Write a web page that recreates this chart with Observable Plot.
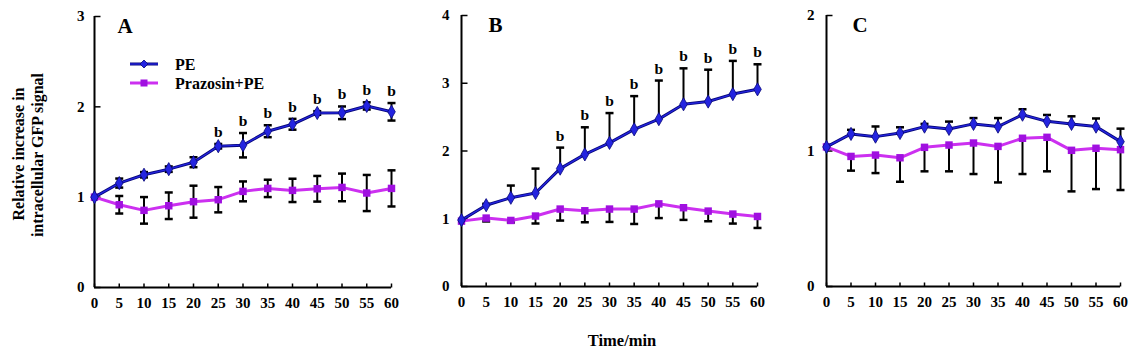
<!DOCTYPE html>
<html>
<head>
<meta charset="utf-8">
<script src="https://cdn.jsdelivr.net/npm/d3@7"></script>
<script src="https://cdn.jsdelivr.net/npm/@observablehq/plot@0.6"></script>
<style>
  body { margin: 0; background: #fff; }
  #wrap { position: relative; width: 1145px; height: 353px; font-family: "Liberation Serif", "DejaVu Serif", serif; font-weight: bold; color: #000; }
  #wrap > div.p { position: absolute; top: 0; }
  .ylab { position: absolute; white-space: nowrap; font-size: 16px; transform: translate(-50%, -50%) rotate(-90deg); }
  #xlab { position: absolute; left: 622px; top: 341px; transform: translate(-50%, -50%); font-size: 16.5px; white-space: nowrap; }
</style>
</head>
<body>
<div id="wrap"></div>
<script>
// ---- data ----
const times = [0, 5, 10, 15, 20, 25, 30, 35, 40, 45, 50, 55, 60];
const seriesNames = ["PE", "Prazosin+PE"];

// Panel A (mean, SD; both-sided error bars)
const peA   = [1.00, 1.156, 1.248, 1.31, 1.387, 1.564, 1.575, 1.73, 1.807, 1.932, 1.934, 2.01, 1.945];
const peAsd = [0, 0.05, 0.03, 0.03, 0.055, 0.025, 0.135, 0.066, 0.06, 0.02, 0.07, 0.04, 0.097];
const pzA   = [1.00, 0.916, 0.854, 0.905, 0.95, 0.972, 1.064, 1.097, 1.075, 1.093, 1.108, 1.046, 1.097];
const pzAsd = [0, 0.097, 0.147, 0.147, 0.177, 0.14, 0.11, 0.096, 0.129, 0.142, 0.153, 0.2, 0.2];
const sigA  = [25, 30, 35, 40, 45, 50, 55, 60];

// Panel B (PE bars upward, Prazosin bars downward)
const peB   = [0.98, 1.20, 1.31, 1.38, 1.74, 1.95, 2.12, 2.32, 2.47, 2.69, 2.73, 2.84, 2.91];
const peBsd = [0, 0.02, 0.18, 0.36, 0.31, 0.40, 0.44, 0.49, 0.57, 0.53, 0.47, 0.49, 0.37];
const pzB   = [0.965, 1.01, 0.975, 1.04, 1.143, 1.118, 1.143, 1.143, 1.22, 1.163, 1.113, 1.069, 1.034];
const pzBsd = [0, 0.05, 0.03, 0.11, 0.17, 0.17, 0.19, 0.22, 0.21, 0.18, 0.15, 0.14, 0.17];
const sigB  = [20, 25, 30, 35, 40, 45, 50, 55, 60];

// Panel C (PE bars upward, Prazosin bars downward)
const peC   = [1.03, 1.126, 1.106, 1.133, 1.18, 1.163, 1.2, 1.18, 1.268, 1.219, 1.2, 1.18, 1.069];
const peCsd = [0, 0.03, 0.075, 0.042, 0.02, 0.054, 0.043, 0.063, 0.04, 0.047, 0.056, 0.06, 0.096];
const pzC   = [1.03, 0.96, 0.97, 0.95, 1.027, 1.044, 1.059, 1.034, 1.094, 1.101, 1.005, 1.02, 1.01];
const pzCsd = [0, 0.105, 0.133, 0.177, 0.177, 0.194, 0.229, 0.266, 0.264, 0.251, 0.303, 0.301, 0.298];
const sigC  = [];

const yTicksA = [0, 1, 2, 3];
const yTicksB = [0, 1, 2, 3, 4];
const yTicksC = [0, 1, 2];

// ---- styles ----
const PE_DARK = "#07077a", PE_BLUE = "#2424e0", PZ_LINE = "#cc30f0", PZ_MARK = "#a010e0";
const cap   = { draw(ctx) { ctx.moveTo(-4, 0); ctx.lineTo(4, 0); } };
const tickUp    = { draw(ctx) { ctx.moveTo(0, 0); ctx.lineTo(0, -4); } };
const tickRight = { draw(ctx) { ctx.moveTo(0, 0); ctx.lineTo(6, 0); } };

function makeRows(pe, peSd, pz, pzSd, sides) {
  const rows = [];
  times.forEach((t, i) => {
    rows.push({ t, s: seriesNames[0], m: pe[i], sd: peSd[i],
      lo: sides === "both" ? pe[i] - peSd[i] : pe[i],
      hi: pe[i] + peSd[i] });
    rows.push({ t, s: seriesNames[1], m: pz[i], sd: pzSd[i],
      lo: pz[i] - pzSd[i],
      hi: sides === "both" ? pz[i] + pzSd[i] : pz[i] });
  });
  return rows;
}

function panel(cfg) {
  const rows = makeRows(cfg.pe, cfg.peSd, cfg.pz, cfg.pzSd, cfg.sides);
  const peRows = rows.filter(d => d.s === "PE");
  const pzRows = rows.filter(d => d.s !== "PE");
  const sigRows = peRows.filter(d => cfg.sig.includes(d.t));
  const errRows = rows.filter(d => d.sd > 0);
  const capRows = [];
  errRows.forEach(d => {
    if (d.hi > d.m) capRows.push({ t: d.t, v: d.hi });
    if (d.lo < d.m) capRows.push({ t: d.t, v: d.lo });
  });
  return Plot.plot({
    width: cfg.width, height: 353,
    marginLeft: cfg.ml, marginRight: cfg.mr, marginTop: cfg.mt, marginBottom: 353 - cfg.y0,
    style: { fontFamily: "'Liberation Serif', serif", fontWeight: "bold", fontSize: "15px", background: "transparent", overflow: "visible" },
    x: { domain: [0, 60] },
    y: { domain: [0, cfg.yTicks[cfg.yTicks.length - 1]] },
    marks: [
      // tick labels
      Plot.axisX({ ticks: times, tickSize: 0, tickPadding: 10, tickFormat: d => String(d), fontSize: 15, label: null }),
      Plot.axisY({ ticks: cfg.yTicks, tickSize: 0, tickPadding: cfg.ypad, tickFormat: d => String(d), fontSize: 15, label: null }),
      // axis lines
      Plot.ruleY([0], { stroke: "#000", strokeWidth: 2 }),
      Plot.ruleX([0], { stroke: "#000", strokeWidth: 2 }),
      // inward tick marks
      Plot.dot(times, { x: d => d, y: () => 0, symbol: tickUp, stroke: "#000", strokeWidth: 1.5, r: 4 }),
      Plot.dot(cfg.yTicks, { x: () => 0, y: d => d, symbol: tickRight, stroke: "#000", strokeWidth: 1.5, r: 4 }),
      // error bars
      Plot.ruleX(errRows, { x: "t", y1: "lo", y2: "hi", stroke: "#000", strokeWidth: 2 }),
      Plot.dot(capRows, { x: "t", y: "v", symbol: cap, stroke: "#000", strokeWidth: 2.5, r: 4 }),
      // series
      Plot.line(pzRows, { x: "t", y: "m", stroke: PZ_LINE, strokeWidth: 3 }),
      Plot.dot(pzRows, { x: "t", y: "m", symbol: "square", fill: PZ_MARK, r: 4.2 }),
      Plot.line(peRows, { x: "t", y: "m", stroke: PE_DARK, strokeWidth: 3 }),
      Plot.line(peRows, { x: "t", y: "m", stroke: PE_BLUE, strokeWidth: 1.3 }),
      Plot.dot(peRows, { x: "t", y: "m", symbol: "diamond", fill: PE_BLUE, stroke: PE_DARK, strokeWidth: 0.8, r: 4 }),
      Plot.text(sigRows, { x: "t", y: "hi", text: () => "b", dy: -12, fontSize: 15.5, fontWeight: "bold" }),
      Plot.text([cfg.letter], { frameAnchor: "top-left", text: d => d, dx: cfg.ldx, dy: 2, textAnchor: "start", lineAnchor: "top", fontSize: 21, fontWeight: "bold" })
    ]
  });
}

const wrap = document.getElementById("wrap");
function place(node, left) {
  const d = document.createElement("div");
  d.className = "p";
  d.style.left = left + "px";
  d.appendChild(node);
  wrap.appendChild(d);
}

place(panel({ pe: peA, peSd: peAsd, pz: pzA, pzSd: pzAsd, sides: "both", sig: sigA, yTicks: yTicksA,
  letter: "A", ldx: 23, ypad: 10, width: 400, ml: 94, mr: 9, mt: 16, y0: 287 }), 0);
place(panel({ pe: peB, peSd: peBsd, pz: pzB, pzSd: pzBsd, sides: "split", sig: sigB, yTicks: yTicksB,
  letter: "B", ldx: 27, ypad: 12, width: 370, ml: 61, mr: 13, mt: 15, y0: 286 }), 400);
place(panel({ pe: peC, peSd: peCsd, pz: pzC, pzSd: pzCsd, sides: "split", sig: sigC, yTicks: yTicksC,
  letter: "C", ldx: 26, ypad: 12, width: 375, ml: 56, mr: 25, mt: 15, y0: 286 }), 770);

// y-axis label (two lines)
[["Relative increase in", 19, 154], ["intracellular GFP signal", 38, 155]].forEach(([txt, x, y]) => {
  const s = document.createElement("div");
  s.className = "ylab";
  s.textContent = txt;
  s.style.left = x + "px";
  s.style.top = y + "px";
  wrap.appendChild(s);
});

// x-axis label
const xl = document.createElement("div");
xl.id = "xlab";
xl.textContent = "Time/min";
wrap.appendChild(xl);

// legend
const ns = "http://www.w3.org/2000/svg";
const lg = document.createElementNS(ns, "svg");
lg.setAttribute("width", 180);
lg.setAttribute("height", 40);
lg.style.position = "absolute";
lg.style.left = "126px";
lg.style.top = "54px";
lg.innerHTML = `
  <line x1="4" x2="32" y1="10" y2="10" stroke="${PE_DARK}" stroke-width="3"/>
  <line x1="4" x2="32" y1="10" y2="10" stroke="${PE_BLUE}" stroke-width="1.3"/>
  <path d="M18,6 L22,10 L18,14 L14,10 Z" fill="${PE_BLUE}" stroke="${PE_DARK}" stroke-width="0.8"/>
  <text x="49" y="15.5" font-family="Liberation Serif, serif" font-weight="bold" font-size="16">${seriesNames[0]}</text>
  <line x1="4" x2="32" y1="29" y2="29" stroke="${PZ_LINE}" stroke-width="3"/>
  <rect x="14.5" y="25.5" width="7" height="7" fill="${PZ_MARK}"/>
  <text x="49" y="34.5" font-family="Liberation Serif, serif" font-weight="bold" font-size="16">${seriesNames[1]}</text>`;
wrap.appendChild(lg);
</script>
</body>
</html>
